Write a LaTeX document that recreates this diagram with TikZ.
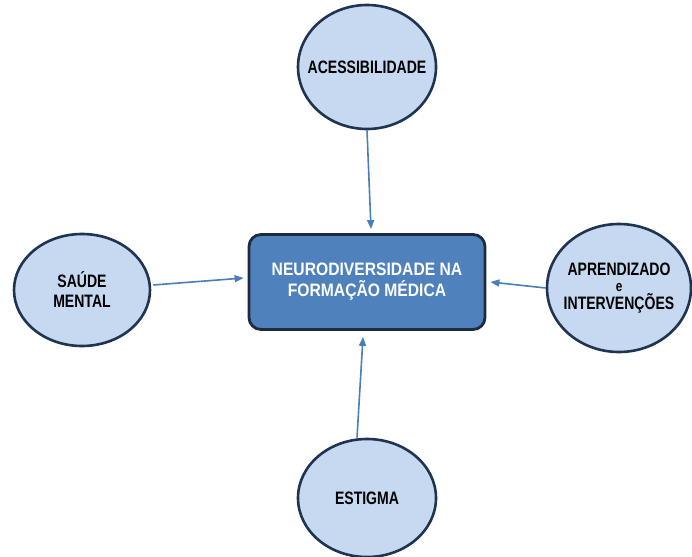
\documentclass[tikz,border=0pt]{standalone}
\usepackage{fontspec}
\setmainfont{Liberation Sans}
\newfontfamily\ellfont{Liberation Sans}[FakeStretch=0.78]
\newfontfamily\boxfont{Liberation Sans}[FakeStretch=0.87]
\usetikzlibrary{shapes.geometric,arrows.meta}
\definecolor{ellfill}{HTML}{C6D9F1}
\definecolor{ellline}{HTML}{1F3450}
\definecolor{boxfill}{HTML}{4F81BD}
\definecolor{boxline}{HTML}{1C2B40}
\definecolor{arrcol}{HTML}{4A7EBB}
\begin{document}
\begin{tikzpicture}[x=1pt,y=-1pt,
  topic/.style={ellipse,draw=ellline,line width=2.6pt,fill=ellfill,inner xsep=-30pt,inner ysep=-10pt,
    align=center,font=\ellfont\bfseries\fontsize{18}{20}\selectfont},
  centre/.style={rectangle,rounded corners=12pt,draw=boxline,line width=2.8pt,fill=boxfill,
    minimum width=236pt,minimum height=95pt,align=center,text=white,
    font=\boxfont\bfseries\fontsize{18}{21}\selectfont},
  link/.style={draw=arrcol,line width=1.6pt,-{Triangle[length=9pt,width=7pt]}}]
\useasboundingbox (0,0) rectangle (692,556);
\node[centre] (cen) at (367,282) {NEURODIVERSIDADE NA\\FORMAÇÃO MÉDICA};
\node[topic,minimum width=138pt,minimum height=124pt] (acc) at (367,67) {ACESSIBILIDADE};
\node[topic,minimum width=136pt,minimum height=112pt] (sau) at (82,290) {SAÚDE\\MENTAL};
\node[topic,minimum width=144pt,minimum height=128pt] (apr) at (619,288)
  {APRENDIZADO\\[-4pt]{\fontsize{15}{15}\selectfont e}\\[-2pt]INTERVENÇÕES};
\node[topic,minimum width=138pt,minimum height=118pt] (est) at (367,498) {ESTIGMA};
\draw[link] (acc.south) -- ([shift={(4,-4)}]cen.north);
\draw[link] ([shift={(2,-5)}]sau.east) -- ([shift={(-4,-4)}]cen.west);
\draw[link] (apr.west) -- ([shift={(4,0)}]cen.east);
\draw[link] ([xshift=-10pt]est.north) -- ([shift={(-4,6)}]cen.south);
\end{tikzpicture}
\end{document}
